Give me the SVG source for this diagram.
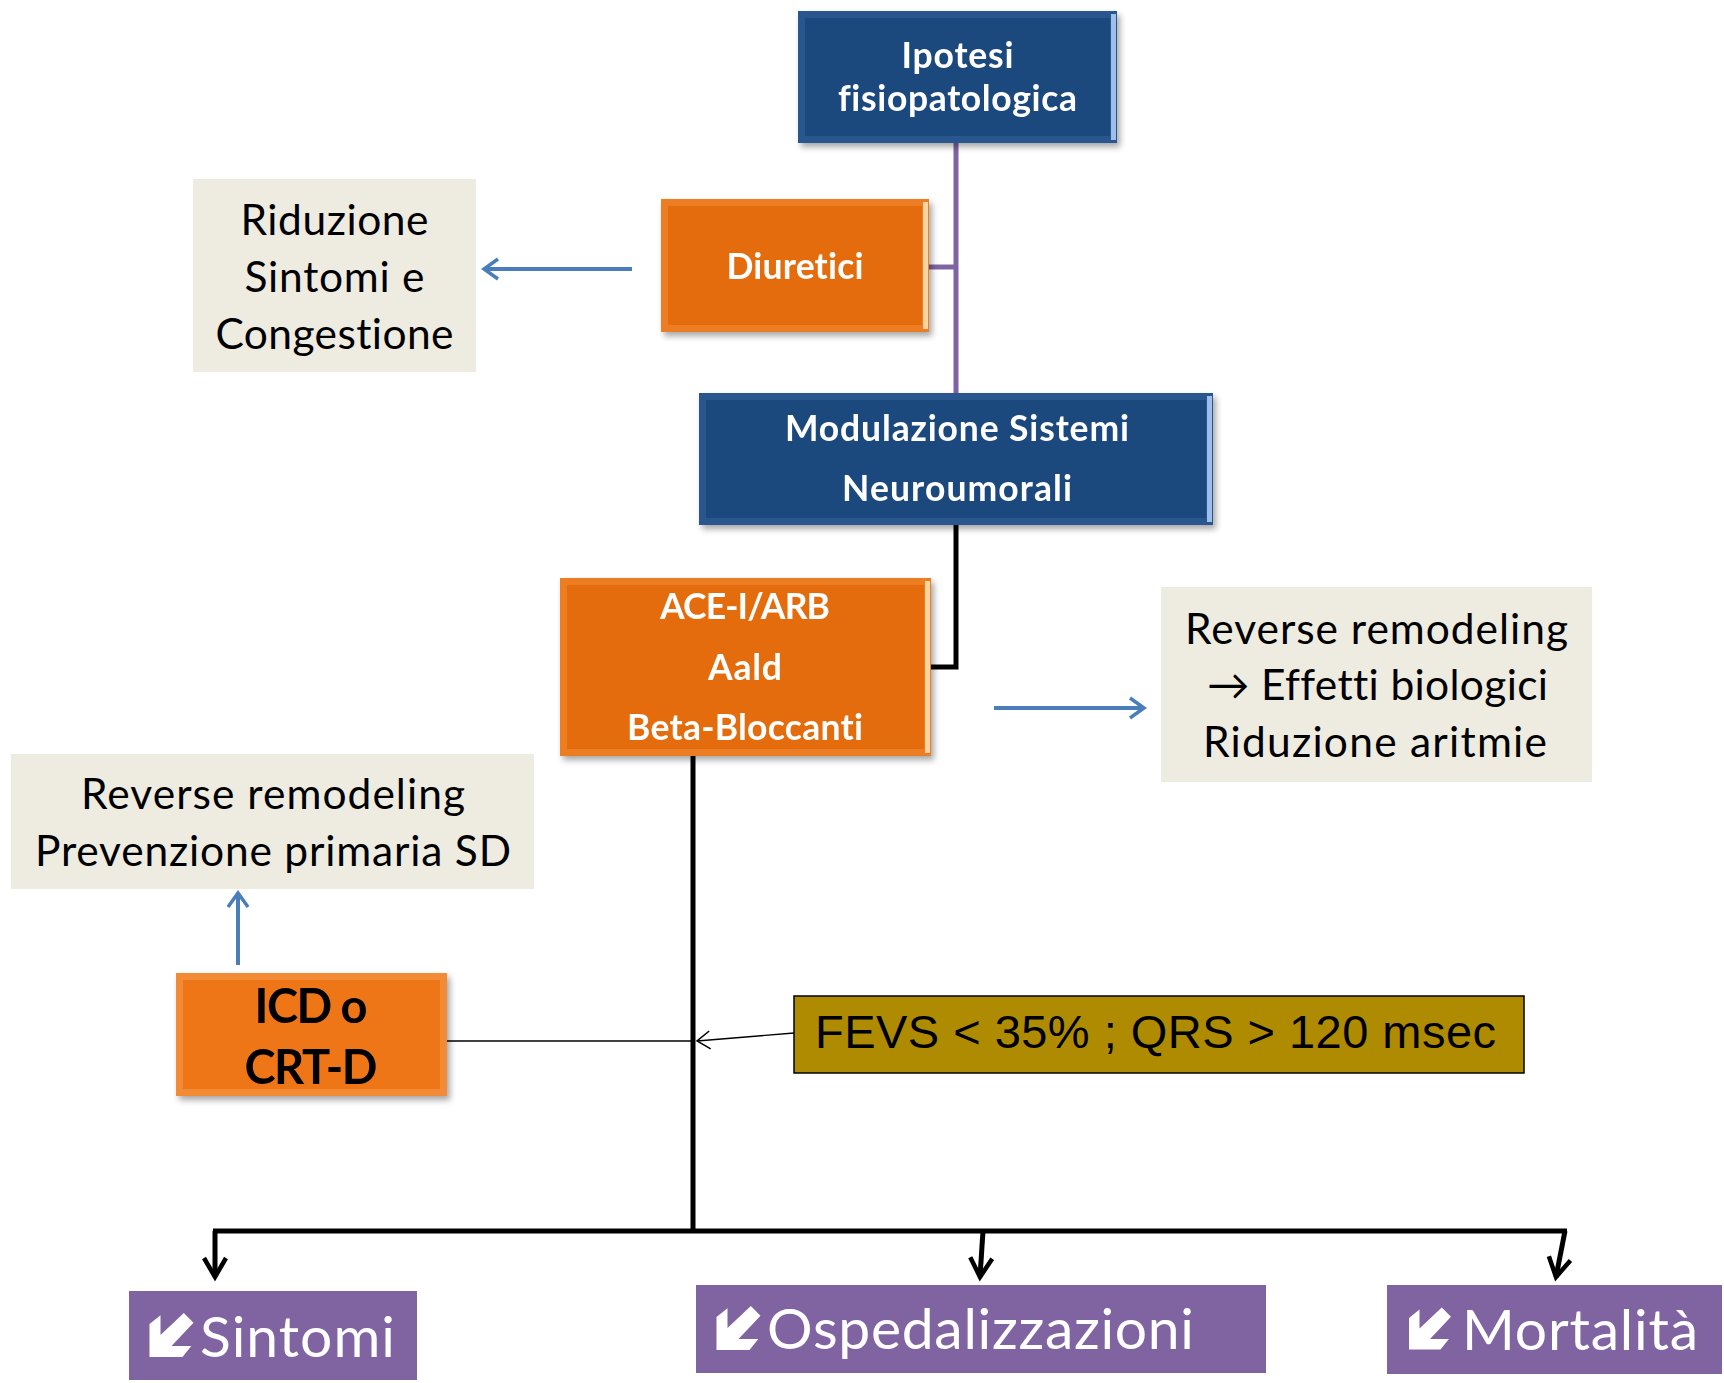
<svg xmlns="http://www.w3.org/2000/svg" xmlns:xlink="http://www.w3.org/1999/xlink" width="1724" height="1383" viewBox="0 0 1724 1383">
<style>
text{font-variant-ligatures:none;font-feature-settings:"liga" 0,"clig" 0}
.bold{font-family:Lato,"Liberation Sans",sans-serif;font-weight:700;fill:#fff;text-anchor:middle}
.note{font-family:Lato,"Liberation Sans",sans-serif;font-size:42.5px;fill:#000;text-anchor:middle}
.out{font-family:Lato,"Liberation Sans",sans-serif;font-size:57px;fill:#fff}
.beige{fill:#eeece1}
.purple{fill:#8064a2}
.blue-edge{fill:#2a568f}
.blue-face{fill:#1f497d}
.blue-hl{fill:#9dbfe8}
.or-edge{fill:#ec7d22}
.or-face{fill:#e46c0a}
.or-hl{fill:#fbd49e}
.icd-edge{fill:#f38a36}
.icd-face{fill:#ef7614}
.conn-purple{stroke:#8064a2;stroke-width:5;fill:none}
.conn-black{stroke:#000;stroke-width:5;fill:none}
.conn-blue{stroke:#4a7ebb;stroke-width:4;fill:none}
.conn-thin{stroke:#000;stroke-width:1.4;fill:none}
</style>
<defs>
<filter id="shadow" x="-10%" y="-10%" width="125%" height="130%">
<feDropShadow dx="3" dy="4" stdDeviation="3" flood-color="#000" flood-opacity="0.35"/>
</filter>
<marker id="blkArrow" viewBox="-24 -16 30 32" markerWidth="30" markerHeight="32" refX="0" refY="0" orient="auto" markerUnits="userSpaceOnUse">
<path d="M-19,-11 L0,0 L-19,11" fill="none" stroke="#000" stroke-width="4.5"/>
</marker>
<marker id="bluArrow" viewBox="-20 -14 26 28" markerWidth="26" markerHeight="28" refX="0" refY="0" orient="auto" markerUnits="userSpaceOnUse">
<path d="M-14,-10 L0,0 L-14,10" fill="none" stroke="#4a7ebb" stroke-width="3.5"/>
</marker>
<marker id="thinArrow" viewBox="-16 -12 20 24" markerWidth="20" markerHeight="24" refX="0" refY="0" orient="auto" markerUnits="userSpaceOnUse">
<path d="M-13,-9 L0,0 L-13,9" fill="none" stroke="#000" stroke-width="1.5"/>
</marker>
<symbol id="icon" viewBox="0 0 100 100">
<polygon points="0,25 25,5 25,50 78,0 100,22 50,75 95,75 75,100 0,100" fill="#fff"/>
</symbol>
</defs>
<rect width="1724" height="1383" fill="#fff"/>

<g id="connectors">
<line class="conn-purple" x1="956" y1="143" x2="956" y2="393"/>
<line class="conn-purple" x1="929" y1="267" x2="956" y2="267"/>
<polyline class="conn-black" points="956,525 956,667 931,667"/>
<line class="conn-black" x1="693" y1="756" x2="693" y2="1233"/>
<line class="conn-black" x1="213" y1="1231" x2="1567" y2="1231"/>
<path class="conn-black" d="M215,1231 L215,1277" marker-end="url(#blkArrow)"/>
<path class="conn-black" d="M983,1231 L980,1277" marker-end="url(#blkArrow)"/>
<path class="conn-black" d="M1565,1231 L1556,1277" marker-end="url(#blkArrow)"/>
<path class="conn-blue" d="M632,269 L484,269" marker-end="url(#bluArrow)"/>
<path class="conn-blue" d="M994,708 L1144,708" marker-end="url(#bluArrow)"/>
<path class="conn-blue" d="M238,965 L238,893" marker-end="url(#bluArrow)"/>
<line class="conn-thin" x1="447" y1="1041" x2="693" y2="1041"/>
<path class="conn-thin" d="M794,1033 L697,1041" marker-end="url(#thinArrow)"/>
</g>

<g id="ipotesi" filter="url(#shadow)">
<rect class="blue-edge" x="798" y="11" width="319" height="132"/>
<rect class="blue-face" x="805" y="18" width="305" height="118"/>
<rect class="blue-hl" x="1111" y="14" width="5" height="126"/>
<text class="bold" font-size="35.5" x="957.5" y="68" textLength="112">Ipotesi</text>
<text class="bold" font-size="35.5" x="957.5" y="111" textLength="239">fisiopatologica</text>
</g>

<g id="diuretici" filter="url(#shadow)">
<rect class="or-edge" x="661" y="199" width="268" height="133"/>
<rect class="or-face" x="668" y="206" width="254" height="119"/>
<rect class="or-hl" x="923" y="202" width="5" height="127"/>
<text class="bold" font-size="35.5" x="795" y="279" textLength="137">Diuretici</text>
</g>

<g id="modulazione" filter="url(#shadow)">
<rect class="blue-edge" x="699" y="393" width="514" height="132"/>
<rect class="blue-face" x="706" y="400" width="500" height="118"/>
<rect class="blue-hl" x="1207" y="396" width="5" height="126"/>
<text class="bold" font-size="35.5" x="957" y="441" textLength="344">Modulazione Sistemi</text>
<text class="bold" font-size="35.5" x="957" y="501" textLength="230">Neuroumorali</text>
</g>

<g id="ace" filter="url(#shadow)">
<rect class="or-edge" x="560" y="578" width="371" height="178"/>
<rect class="or-face" x="567" y="585" width="357" height="164"/>
<rect class="or-hl" x="925" y="581" width="5" height="172"/>
<text class="bold" font-size="35.5" x="745" y="619" textLength="170">ACE-I/ARB</text>
<text class="bold" font-size="35.5" x="745" y="680" textLength="74">Aald</text>
<text class="bold" font-size="35.5" x="745" y="740" textLength="236">Beta-Bloccanti</text>
</g>

<g id="icd" filter="url(#shadow)">
<rect class="icd-edge" x="176" y="973" width="271" height="123"/>
<rect class="icd-face" x="183" y="980" width="257" height="109"/>
<text class="bold" font-size="47" x="311" y="1023" textLength="113" style="fill:#000">ICD o</text>
<text class="bold" font-size="47" x="311" y="1084" textLength="133" style="fill:#000">CRT-D</text>
</g>

<g id="fevs">
<rect x="794" y="996" width="730" height="77" fill="#ae8b00" stroke="#000" stroke-width="1.5"/>
<text x="815" y="1048" font-family="'Liberation Sans',Arial,sans-serif" font-size="47" textLength="681" fill="#000">FEVS &lt; 35% ; QRS &gt; 120 msec</text>
</g>

<g id="riduzione-sintomi">
<rect class="beige" x="193" y="179" width="283" height="193"/>
<text class="note" x="334.5" y="235" textLength="188">Riduzione</text>
<text class="note" x="334.5" y="292" textLength="180">Sintomi e</text>
<text class="note" x="334.5" y="349" textLength="238">Congestione</text>
</g>

<g id="reverse-effetti">
<rect class="beige" x="1161" y="587" width="431" height="195"/>
<text class="note" x="1376.5" y="644" textLength="383">Reverse remodeling</text>
<text class="note" x="1377.5" y="700" textLength="341">→ Effetti biologici</text>
<text class="note" x="1375" y="757" textLength="344">Riduzione aritmie</text>
</g>

<g id="reverse-prevenzione">
<rect class="beige" x="11" y="754" width="523" height="135"/>
<text class="note" x="273" y="809" textLength="384">Reverse remodeling</text>
<text class="note" x="273" y="866" textLength="476">Prevenzione primaria SD</text>
</g>

<g id="sintomi">
<rect class="purple" x="129" y="1291" width="288" height="89"/>
<use xlink:href="#icon" x="149" y="1313" width="45" height="44"/>
<text class="out" x="200" y="1357" textLength="195">Sintomi</text>
</g>

<g id="ospedalizzazioni">
<rect class="purple" x="696" y="1285" width="570" height="88"/>
<use xlink:href="#icon" x="716" y="1306" width="45" height="44"/>
<text class="out" x="767" y="1349" textLength="427">Ospedalizzazioni</text>
</g>

<g id="mortalita">
<rect class="purple" x="1387" y="1285" width="335" height="89"/>
<use xlink:href="#icon" x="1409" y="1307" width="42" height="43"/>
<text class="out" x="1462" y="1350" textLength="236">Mortalità</text>
</g>
</svg>
